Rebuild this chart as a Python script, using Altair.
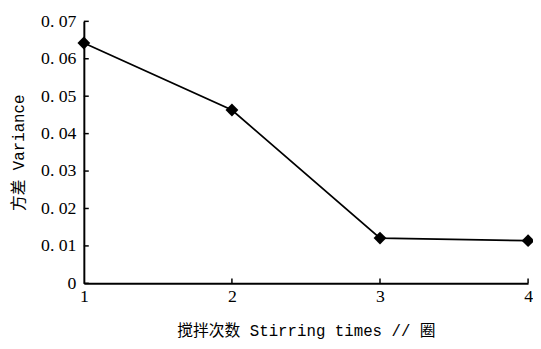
import altair as alt
import pandas as pd

stirring_times = [1, 2, 3, 4]
variance = [0.0642, 0.0463, 0.0121, 0.0114]
y_ticks = [0.0, 0.01, 0.02, 0.03, 0.04, 0.05, 0.06, 0.07]
x_ticks = [1, 2, 3, 4]

df = pd.DataFrame({"x": stirring_times, "y": variance})
ydf = pd.DataFrame({"y": y_ticks})
xdf = pd.DataFrame({"x": x_ticks[1:]})

LABEL_FONT = "Liberation Serif, Noto Sans CJK SC"
TITLE_FONT = "Liberation Mono, Noto Sans CJK SC"
W, H = 451, 266

xs = alt.Scale(domain=[1, 4], nice=False)
ys = alt.Scale(domain=[0, 0.07], nice=False)

x_axis = alt.Axis(values=x_ticks, format="d", tickSize=0, labelPadding=4,
                  labelOverlap=False, labelFlush=False,
                  title="搅拌次数 Stirring times // 圈", titlePadding=18, grid=False)
y_axis = alt.Axis(values=y_ticks, tickSize=0, labelPadding=8,
                  labelOverlap=False, labelFlush=False,
                  labelExpr="datum.value == 0 ? '0' : replace(format(datum.value, '.2f'), '.', '. ')",
                  title="方差 Variance", titlePadding=14, grid=False)

line = alt.Chart(df).mark_line(color="black", strokeWidth=1.8).encode(
    x=alt.X("x:Q", scale=xs, axis=x_axis),
    y=alt.Y("y:Q", scale=ys, axis=y_axis),
)
pts = alt.Chart(df).mark_point(shape="diamond", filled=True, color="black", size=170, opacity=1).encode(
    x=alt.X("x:Q", scale=xs, axis=x_axis), y=alt.Y("y:Q", scale=ys, axis=y_axis)
)
yt = alt.Chart(ydf).mark_rule(color="black", strokeWidth=1.5).encode(
    y=alt.Y("y:Q", scale=ys, axis=y_axis), x=alt.value(0), x2=alt.value(5)
)
xt = alt.Chart(xdf).mark_rule(color="black", strokeWidth=1.5).encode(
    x=alt.X("x:Q", scale=xs, axis=x_axis), y=alt.value(H), y2=alt.value(H - 5)
)

chart = alt.layer(line, yt, xt, pts).properties(
    width=W, height=H,
    autosize=alt.AutoSizeParams(type="none"),
    padding={"left": 77, "top": 11, "right": 5, "bottom": 56},
).configure_view(stroke=None).configure_axis(
    domainColor="black", domainWidth=2, labelColor="black", titleColor="black",
    labelFont=LABEL_FONT, titleFont=TITLE_FONT, labelFontSize=18, titleFontSize=16,
    titleFontWeight="normal",
)

chart.save("out.html", embed_options={"renderer": "svg", "actions": False})
